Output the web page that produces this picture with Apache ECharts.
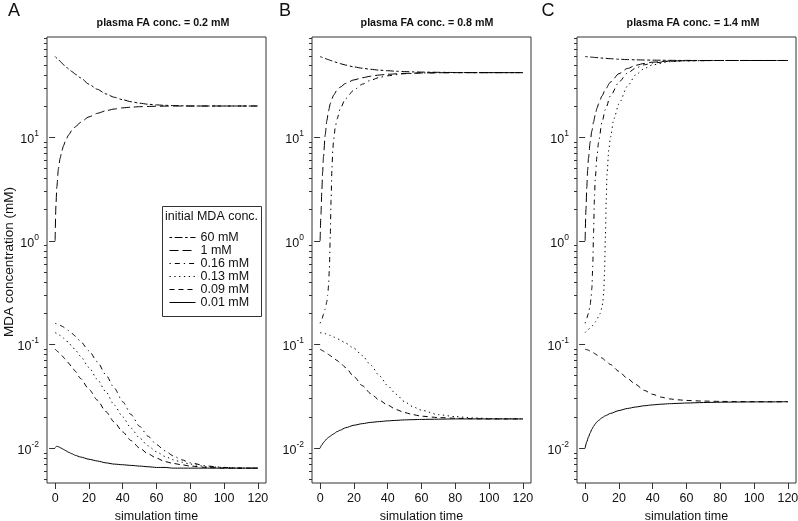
<!DOCTYPE html>
<html><head><meta charset="utf-8">
<script src="https://cdn.jsdelivr.net/npm/echarts@6/dist/echarts.min.js"></script>
<style>html,body{margin:0;padding:0;background:#fff}#c{width:798px;height:521px}</style>
</head><body><div id="c"></div>
<script>
// ---------- labels ----------
const seriesNames = ['60 mM', '1 mM', '0.16 mM', '0.13 mM', '0.09 mM', '0.01 mM'];
const panelTitles = ['plasma FA conc. = 0.2 mM', 'plasma FA conc. = 0.8 mM', 'plasma FA conc. = 1.4 mM'];
const panelLetters = ['A', 'B', 'C'];
const legendTitle = 'initial MDA conc.';
const xAxisTitle = 'simulation time';
const yAxisTitle = 'MDA concentration (mM)';
const xTicks = [0, 20, 40, 60, 80, 100, 120];
const yMajorTicks = [0.01, 0.1, 1, 10];
const yMinorTicks = [0.005, 0.006, 0.007, 0.008, 0.009, 0.02, 0.03, 0.04, 0.05, 0.06, 0.07, 0.08, 0.09,
  0.2, 0.3, 0.4, 0.5, 0.6, 0.7, 0.8, 0.9, 2, 3, 4, 5, 6, 7, 8, 9, 20, 30, 40, 50, 60, 70, 80, 90];

// ---------- Panel A (plasma FA 0.2 mM) ----------
const tA = [0, 1, 2, 3, 4, 5, 6, 8, 10, 12, 15, 20, 25, 30, 35, 40, 45, 50, 55, 60, 65, 70, 75, 80, 90, 100, 110, 120];
const A_60 = [60, 58, 56, 54, 52, 50, 48.5, 45.5, 43, 40.5, 37.5, 32.5, 29, 26.2, 24.3, 23, 22, 21.3, 20.8, 20.5, 20.3, 20.2, 20.1, 20, 20, 20, 20, 20];
const tA_1 = [0, 0.5, 1, 2, 3, 4, 5, 6, 8, 10, 12, 15, 20, 25, 30, 35, 40, 45, 50, 55, 60, 70, 80, 100, 120];
const A_1 = [1, 2.2, 3.3, 5, 6.3, 7.4, 8.3, 9.1, 10.5, 11.7, 12.6, 13.9, 15.7, 17, 18, 18.7, 19.2, 19.5, 19.7, 19.8, 19.9, 20, 20, 20, 20];
const A_016 = [0.16, 0.158, 0.156, 0.153, 0.15, 0.147, 0.143, 0.136, 0.128, 0.12, 0.107, 0.087, 0.068, 0.051, 0.038, 0.028, 0.021, 0.0162, 0.013, 0.0108, 0.0094, 0.0084, 0.0077, 0.0072, 0.0067, 0.0065, 0.0064, 0.0064];
const A_013 = [0.13, 0.128, 0.125, 0.122, 0.119, 0.115, 0.111, 0.104, 0.096, 0.088, 0.077, 0.06, 0.046, 0.035, 0.026, 0.02, 0.0155, 0.0125, 0.0105, 0.0092, 0.0083, 0.0077, 0.0073, 0.007, 0.0066, 0.0065, 0.0064, 0.0064];
const A_009 = [0.09, 0.087, 0.084, 0.081, 0.078, 0.075, 0.072, 0.066, 0.06, 0.055, 0.047, 0.037, 0.029, 0.0225, 0.0178, 0.0143, 0.0118, 0.01, 0.0088, 0.008, 0.0074, 0.0071, 0.0069, 0.0067, 0.0065, 0.0064, 0.0064, 0.0064];
const A_001 = [0.0101, 0.0104, 0.0103, 0.0101, 0.0099, 0.0097, 0.0095, 0.0091, 0.0088, 0.0085, 0.0082, 0.0078, 0.0075, 0.0072, 0.007, 0.0069, 0.0068, 0.0067, 0.0066, 0.0065, 0.0065, 0.0064, 0.0064, 0.0064, 0.0064, 0.0064, 0.0064, 0.0064];

// ---------- Panel B (plasma FA 0.8 mM) ----------
const tB = [0, 1, 2, 3, 4, 5, 6, 7, 8, 10, 12, 15, 20, 25, 30, 35, 40, 45, 50, 55, 60, 70, 80, 90, 100, 110, 120];
const B_60 = [60, 59.2, 58.3, 57.5, 56.7, 56, 55.2, 54.5, 53.8, 52.5, 51.3, 49.7, 47.7, 46.3, 45.2, 44.4, 43.8, 43.3, 43, 42.7, 42.5, 42.3, 42.1, 42, 42, 42, 42];
const tB_1 = [0, 0.5, 1, 1.5, 2, 3, 4, 5, 6, 7, 8, 10, 12, 15, 20, 25, 30, 35, 40, 50, 60, 70, 80, 120];
const B_1 = [1, 1.8, 3, 4.6, 6.5, 10.5, 14.5, 18, 21, 23.5, 25.5, 28.5, 30.5, 33, 35.7, 37.5, 38.8, 39.8, 40.5, 41.3, 41.7, 41.9, 42, 42];
const tB_016 = [0, 1, 2, 3, 4, 4.5, 5, 5.5, 6, 6.5, 7, 7.5, 8, 9, 10, 12, 15, 20, 25, 30, 35, 40, 50, 60, 80, 120];
const B_016 = [0.16, 0.175, 0.195, 0.22, 0.26, 0.3, 0.37, 0.55, 1.1, 2.5, 5, 7.5, 9.5, 12.5, 15, 19, 23.5, 28.5, 32.5, 35.5, 37.7, 39.2, 41, 41.7, 42, 42];
const B_013 = [0.13, 0.129, 0.128, 0.127, 0.126, 0.124, 0.122, 0.12, 0.118, 0.114, 0.11, 0.103, 0.092, 0.078, 0.063, 0.05, 0.04, 0.033, 0.028, 0.025, 0.0232, 0.021, 0.0201, 0.0196, 0.0193, 0.0192, 0.0191];
const B_009 = [0.09, 0.088, 0.086, 0.084, 0.082, 0.08, 0.078, 0.076, 0.074, 0.07, 0.066, 0.06, 0.049, 0.04, 0.0335, 0.029, 0.026, 0.0235, 0.022, 0.021, 0.0203, 0.0197, 0.0194, 0.0192, 0.0191, 0.0191, 0.0191];
const B_001 = [0.01, 0.0107, 0.0113, 0.0118, 0.0123, 0.0127, 0.013, 0.0134, 0.0137, 0.0144, 0.0149, 0.0157, 0.0166, 0.0172, 0.0177, 0.018, 0.0183, 0.0185, 0.0187, 0.0188, 0.0189, 0.019, 0.0191, 0.0191, 0.0191, 0.0191, 0.0191];

// ---------- Panel C (plasma FA 1.4 mM) ----------
const tC = [0, 1, 2, 3, 4, 5, 6, 7, 8, 10, 12, 15, 20, 25, 30, 35, 40, 45, 50, 55, 60, 70, 80, 90, 100, 110, 120];
const C_60 = [60, 59.8, 59.6, 59.4, 59.2, 59, 58.8, 58.6, 58.4, 58, 57.7, 57.2, 56.6, 56.1, 55.8, 55.6, 55.4, 55.3, 55.2, 55.1, 55.1, 55, 55, 55, 55, 55, 55];
const tC_1 = [0, 0.5, 1, 1.5, 2, 3, 4, 5, 6, 7, 8, 10, 12, 15, 20, 25, 30, 35, 40, 50, 60, 80, 120];
const C_1 = [1, 2, 3.3, 4.8, 6.3, 9, 11.5, 14, 16.5, 19, 21, 25, 29, 34, 41, 46, 49.5, 51.5, 53, 54.3, 54.8, 55, 55];
const tC_016 = [0, 1, 2, 3, 3.5, 4, 4.5, 5, 5.5, 6, 7, 8, 10, 12, 15, 20, 25, 30, 35, 40, 50, 60, 80, 120];
const C_016 = [0.16, 0.18, 0.2, 0.24, 0.28, 0.35, 0.55, 1.2, 2.5, 4, 6.5, 9, 14, 18.5, 25, 34, 41.5, 46.5, 50, 52, 54, 54.7, 55, 55];
const tC_013 = [0, 2, 4, 6, 8, 9, 10, 10.5, 11, 11.5, 12, 12.5, 13, 14, 15, 17, 20, 25, 30, 35, 40, 50, 60, 80, 120];
const C_013 = [0.13, 0.14, 0.15, 0.165, 0.185, 0.2, 0.23, 0.26, 0.32, 0.5, 1.1, 2.5, 4.5, 7.5, 10, 15, 21, 31, 40, 46, 50, 53.5, 54.6, 55, 55];
const C_009 = [0.09, 0.089, 0.088, 0.086, 0.085, 0.083, 0.081, 0.079, 0.077, 0.074, 0.07, 0.064, 0.055, 0.047, 0.041, 0.036, 0.033, 0.031, 0.0298, 0.0292, 0.0288, 0.0284, 0.0282, 0.0281, 0.028, 0.028, 0.028];
const C_001 = [0.01, 0.0115, 0.0128, 0.014, 0.0152, 0.0162, 0.0171, 0.0179, 0.0185, 0.0196, 0.0205, 0.0216, 0.023, 0.0241, 0.0249, 0.0256, 0.0261, 0.0265, 0.0268, 0.027, 0.0272, 0.0275, 0.0277, 0.0278, 0.0279, 0.0279, 0.028];

// ---------- assemble ----------
const panels = [
  [[tA, A_60], [tA_1, A_1], [tA, A_016], [tA, A_013], [tA, A_009], [tA, A_001]],
  [[tB, B_60], [tB_1, B_1], [tB_016, B_016], [tB, B_013], [tB, B_009], [tB, B_001]],
  [[tC, C_60], [tC_1, C_1], [tC_016, C_016], [tC_013, C_013], [tC, C_009], [tC, C_001]]
];
const dashes = {
  '60 mM': [2.6, 2.6, 7.8, 2.6],
  '1 mM': [9, 4],
  '0.16 mM': [1.3, 4, 5, 4],
  '0.13 mM': [1.3, 3.5],
  '0.09 mM': [5, 4],
  '0.01 mM': 'solid'
};

const FONT = 'Liberation Sans, Arial, sans-serif';
const gridLefts = [47, 312, 577];
const GT = 37, GW = 219, GH = 446;
const YMIN = 0.0046, YMAX = 92.7, XMIN = -4.8, XMAX = 124.8;

const grids = [], xAxes = [], yAxes = [], series = [], graphics = [];
gridLefts.forEach((l, i) => {
  grids.push({ left: l, top: GT, width: GW, height: GH, show: true, borderColor: '#333', borderWidth: 1,
    backgroundColor: 'transparent', containLabel: false, outerBoundsMode: 'none' });
  xAxes.push({
    type: 'value', gridIndex: i, min: XMIN, max: XMAX,
    axisLine: { show: false }, splitLine: { show: false },
    axisTick: { show: true, length: 6, customValues: xTicks, lineStyle: { color: '#333' } },
    axisLabel: { customValues: xTicks, margin: 9, fontSize: 12.5, color: '#111', fontFamily: FONT },
    name: xAxisTitle, nameLocation: 'middle', nameGap: 24,
    nameTextStyle: { fontSize: 12.5, color: '#111', fontFamily: FONT }
  });
});
gridLefts.forEach((l, i) => {
  yAxes.push({
    type: 'log', logBase: 10, gridIndex: i, min: YMIN, max: YMAX, position: 'left',
    axisLine: { show: false }, splitLine: { show: false }, minorTick: { show: false },
    axisTick: { show: true, length: 6, customValues: yMajorTicks, lineStyle: { color: '#333' } },
    axisLabel: {
      customValues: yMajorTicks, margin: 8, fontFamily: FONT, fontSize: 12.5, color: '#111',
      formatter: v => '{b|10}{sup|' + Math.round(Math.log10(v)) + '}',
      rich: {
        b: { fontSize: 12.5, padding: [5, 0, 0, 0], color: '#111', fontFamily: FONT },
        sup: { fontSize: 8.5, padding: [0, 0, 7, 0], color: '#111', fontFamily: FONT }
      }
    }
  });
});
gridLefts.forEach((l, i) => {
  yAxes.push({
    type: 'log', logBase: 10, gridIndex: i, min: YMIN, max: YMAX, position: 'left', offset: 0,
    axisLine: { show: false }, splitLine: { show: false },
    axisTick: { show: true, length: 3, customValues: yMinorTicks, lineStyle: { color: '#333' } },
    axisLabel: { show: false }
  });
});

panels.forEach((pd, i) => {
  pd.forEach((pair, k) => {
    const name = seriesNames[k];
    series.push({
      type: 'line', name: name, xAxisIndex: i, yAxisIndex: i,
      data: pair[0].map((t, j) => [t, pair[1][j]]),
      showSymbol: false, symbol: 'none', smooth: 0.25, smoothMonotone: 'x',
      lineStyle: { color: '#000', width: 1, type: dashes[name] },
      itemStyle: { color: '#000' },
      silent: true, z: 3
    });
  });
  graphics.push({ type: 'text', x: [14, 285, 548][i], y: 11,
    style: { text: panelLetters[i], font: '18px ' + FONT, fill: '#111', align: 'center', verticalAlign: 'middle' } });
  graphics.push({ type: 'text', x: [163, 427, 693][i], y: 23,
    style: { text: panelTitles[i], font: 'bold 10.7px ' + FONT, fill: '#111', align: 'center', verticalAlign: 'middle' } });
});
graphics.push({ type: 'text', x: 9, y: 262, rotation: Math.PI / 2,
  style: { text: yAxisTitle, font: '13.5px ' + FONT, fill: '#111', align: 'center', verticalAlign: 'middle' } });
graphics.push({ type: 'rect', shape: { x: 162.5, y: 206.5, width: 99, height: 110 },
  style: { fill: '#fff', stroke: '#333', lineWidth: 1 }, z: 10 });
graphics.push({ type: 'text', x: 165, y: 217,
  style: { text: legendTitle, font: '12.5px ' + FONT, fill: '#111', align: 'left', verticalAlign: 'middle' }, z: 11 });

const chart = echarts.init(document.getElementById('c'), null, { renderer: 'canvas' });
chart.setOption({
  animation: false,
  backgroundColor: '#fff',
  grid: grids, xAxis: xAxes, yAxis: yAxes, series: series,
  legend: {
    data: seriesNames, orient: 'vertical', left: 164, top: 226, z: 20,
    itemWidth: 26, itemHeight: 10, itemGap: 0, selectedMode: false,
    itemStyle: { color: 'rgba(0,0,0,0)', borderWidth: 0, opacity: 0 },
    lineStyle: { width: 1 },
    textStyle: { fontSize: 12.5, color: '#111', fontFamily: FONT }
  },
  graphic: graphics
});
</script></body></html>
